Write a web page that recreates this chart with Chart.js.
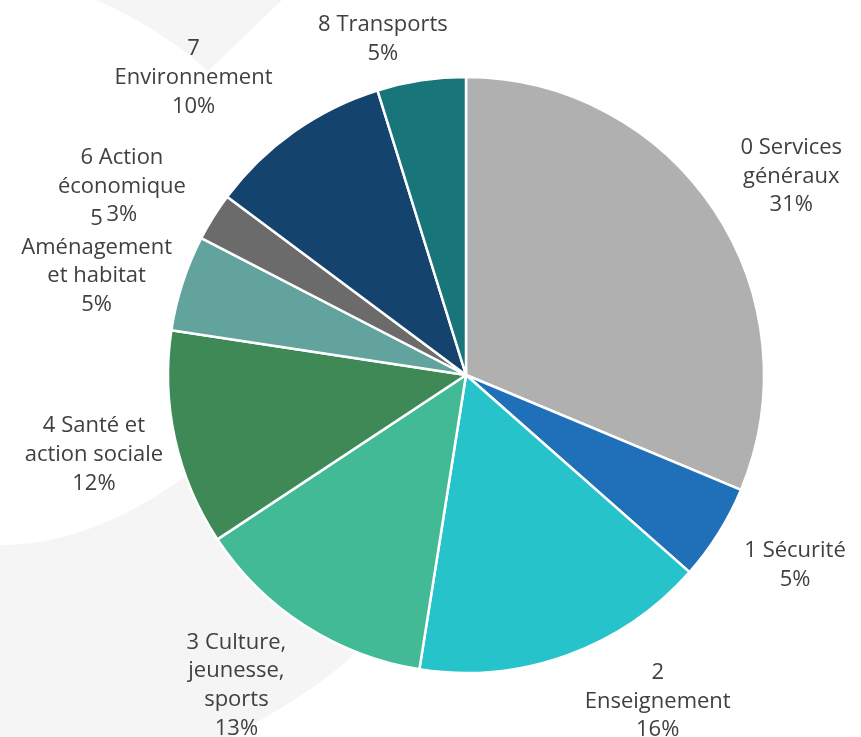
<!DOCTYPE html>
<html lang="fr">
<head>
<meta charset="utf-8">
<title>Dépenses par fonction</title>
<script src="https://cdn.jsdelivr.net/npm/chart.js@4.4.0/dist/chart.umd.min.js"></script>
<style>
  html, body { margin: 0; padding: 0; background: #fff; }
  #chart { display: block; }
</style>
</head>
<body>
<canvas id="chart" width="861" height="737"></canvas>
<script>
// Categories, with the line breaks of the original labels
const categories = [
  ['0 Services', 'généraux'],
  ['1 Sécurité'],
  ['2', 'Enseignement'],
  ['3 Culture,', 'jeunesse,', 'sports'],
  ['4 Santé et', 'action sociale'],
  ['5', 'Aménagement', 'et habitat'],
  ['6 Action', 'économique'],
  ['7', 'Environnement'],
  ['8 Transports']
];
// Share of each function (%)
const shares = [31.3, 5.2, 16.0, 13.2, 11.7, 5.2, 2.6, 10.0, 4.8];

const sliceColors = ['#b0b0b0', '#1f70b8', '#27c3cb', '#42ba96', '#3e8955', '#62a39e', '#6b6b6b', '#14446e', '#18767a'];
// small shifts of each label away from its default spot (px)
const labelNudge = [[9, 12], [7, -11], [63, -31], [-24, -9], [-1, -2], [-8, 4], [-22, 13], [-53, 13], [-26, 40]];

const textColor = '#404040';
const labelFont = '22px "Open Sans", sans-serif';
const lineHeight = 28.7;

// light decorative shapes behind the pie
const backdrop = {
  id: 'backdrop',
  beforeDraw(chart) {
    const ctx = chart.ctx;
    ctx.save();
    ctx.fillStyle = '#fff';
    ctx.fillRect(0, 0, chart.width, chart.height);
    ctx.fillStyle = '#f5f5f5';
    ctx.beginPath();
    ctx.moveTo(96, 0);
    ctx.quadraticCurveTo(160, 28, 208, 71);
    ctx.lineTo(282, 0);
    ctx.closePath();
    ctx.fill();
    ctx.beginPath();
    ctx.moveTo(0, 545);
    ctx.quadraticCurveTo(90, 545, 183, 478);
    ctx.lineTo(260, 400);
    ctx.lineTo(380, 560);
    ctx.lineTo(355, 653);
    ctx.quadraticCurveTo(318, 690, 230, 737);
    ctx.lineTo(0, 737);
    ctx.closePath();
    ctx.fill();
    ctx.restore();
  }
};

// category + percent labels outside the slices
const outsideLabels = {
  id: 'outsideLabels',
  afterDatasetsDraw(chart) {
    const ctx = chart.ctx;
    const meta = chart.getDatasetMeta(0);
    const total = shares.reduce((a, b) => a + b, 0);
    ctx.save();
    ctx.font = labelFont;
    ctx.fillStyle = textColor;
    ctx.textAlign = 'center';
    ctx.textBaseline = 'middle';
    meta.data.forEach((arc, i) => {
      const p = arc.getProps(['x', 'y', 'startAngle', 'endAngle', 'outerRadius'], true);
      const mid = (p.startAngle + p.endAngle) / 2;
      const r = p.outerRadius * 1.275;
      const cx = p.x + Math.cos(mid) * r + labelNudge[i][0];
      const cy = p.y + Math.sin(mid) * r + labelNudge[i][1];
      const lines = categories[i].concat(Math.round(shares[i] / total * 100) + '%');
      const top = cy - (lines.length - 1) * lineHeight / 2;
      lines.forEach((line, k) => {
        ctx.fillText(line, cx, top + k * lineHeight);
      });
    });
    ctx.restore();
  }
};

new Chart(document.getElementById('chart'), {
  type: 'pie',
  data: {
    labels: categories,
    datasets: [{
      data: shares,
      backgroundColor: sliceColors,
      borderColor: '#fff',
      borderWidth: 2.5,
      radius: 298,
      hoverOffset: 0
    }]
  },
  options: {
    responsive: false,
    animation: false,
    layout: { padding: { left: 71, right: 0, top: 13, bottom: 0 } },
    plugins: {
      legend: { display: false },
      tooltip: { enabled: false }
    }
  },
  plugins: [backdrop, outsideLabels]
});
</script>
</body>
</html>
